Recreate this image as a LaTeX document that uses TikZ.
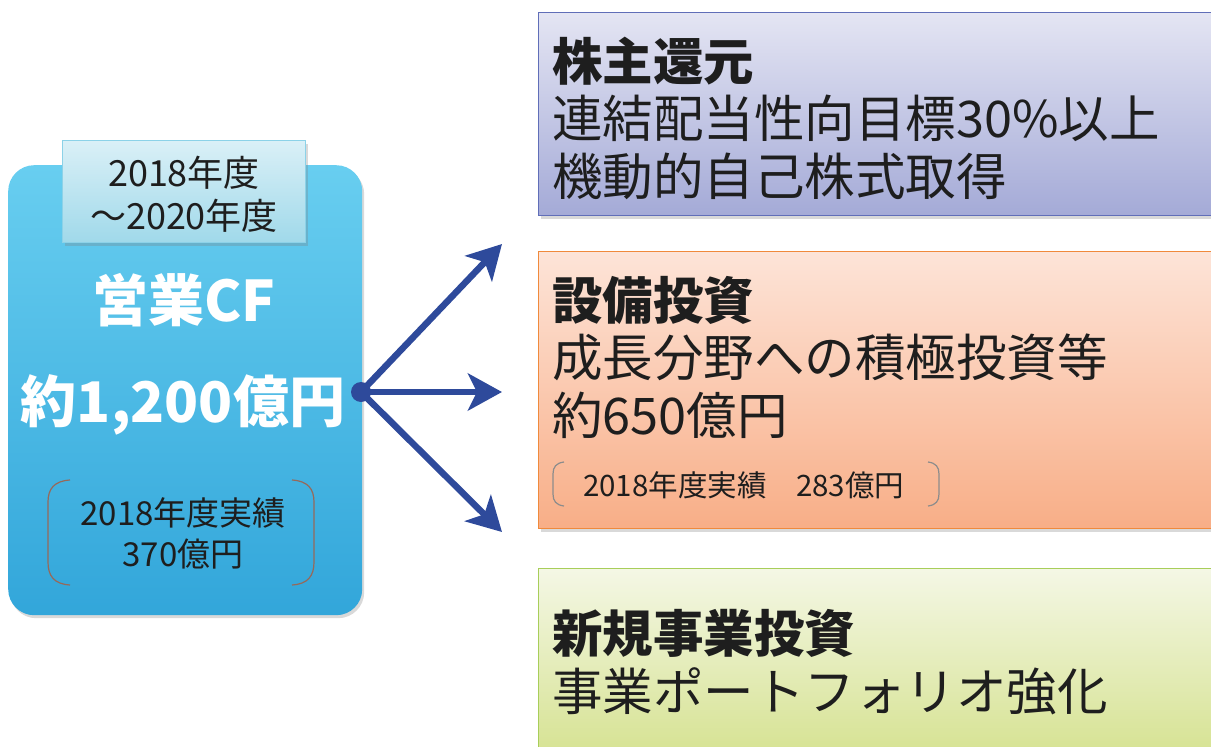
\documentclass[tikz,border=0pt]{standalone}
\usepackage{fontspec}
\setmainfont{Noto Sans CJK JP}
\usetikzlibrary{arrows.meta,shadows}
\definecolor{arrowblue}{RGB}{46,74,155}
\definecolor{cftop}{RGB}{104,206,240}
\definecolor{cfbot}{RGB}{50,166,218}
\definecolor{labtop}{RGB}{218,240,247}
\definecolor{labbot}{RGB}{160,217,234}
\definecolor{labline}{RGB}{140,210,232}
\definecolor{purtop}{RGB}{228,229,243}
\definecolor{purbot}{RGB}{164,170,215}
\definecolor{purline}{RGB}{96,110,184}
\definecolor{orgtop}{RGB}{253,228,216}
\definecolor{orgbot}{RGB}{248,174,135}
\definecolor{orgline}{RGB}{240,138,60}
\definecolor{grntop}{RGB}{244,247,229}
\definecolor{grnbot}{RGB}{212,225,140}
\definecolor{grnline}{RGB}{168,206,90}
\definecolor{brkbrown}{RGB}{150,105,90}
\definecolor{brkgray}{RGB}{140,140,140}
\definecolor{txt}{RGB}{30,30,30}
\tikzset{
  shadowed/.style={drop shadow={opacity=0.3,shadow xshift=2pt,shadow yshift=-3pt}},
  cfbox/.style={shadowed,rounded corners=26pt,top color=cftop,bottom color=cfbot,draw=none,anchor=north west,inner sep=0pt},
  labelbox/.style={shadowed,top color=labtop,bottom color=labbot,draw=labline,line width=1pt,anchor=north west,inner sep=0pt},
  sidebox/.style={shadowed,anchor=north west,inner sep=0pt,line width=1.2pt,minimum width=690pt},
  arrowline/.style={draw=arrowblue,line width=6.5pt,-{Stealth[length=34pt,width=37pt,inset=9pt]}},
  bigtxt/.style={align=left,anchor=west,inner sep=0pt,text=txt,font=\fontsize{50.5}{57.5}\selectfont},
  whitetxt/.style={text=white,inner sep=0pt,font=\fontsize{56}{60}\selectfont\bfseries},
  brk/.style={line width=1.2pt}
}
\begin{document}
\begin{tikzpicture}[x=1pt,y=-1pt]
\useasboundingbox (0,0) rectangle (1211,747);
% left block
\node[cfbox,minimum width=354pt,minimum height=450pt] (cf) at (8,165) {};
\node[labelbox,minimum width=243pt,minimum height=102pt] (period) at (62,140) {};
\node[align=center,inner sep=0pt,text=txt,font=\fontsize{36}{43}\selectfont] (periodtxt) at (184,194) {2018年度\\～2020年度};
\node[whitetxt] (cftitle) at (184,300) {営業CF};
\node[whitetxt] (cfamount) at (183,405) {約1,200億円};
\node[align=center,inner sep=0pt,text=txt,font=\fontsize{33}{41}\selectfont] (cfact) at (183,533) {2018年度実績\\370億円};
\draw[brk,brkbrown] (70,480) .. controls (54,481) and (48,489) .. (48,502) -- (48,562) .. controls (48,576) and (54,584) .. (70,585);
\draw[brk,brkbrown] (292,480) .. controls (308,481) and (314,489) .. (314,502) -- (314,562) .. controls (314,576) and (308,584) .. (292,585);
% right blocks
\node[sidebox,minimum height=203pt,top color=purtop,bottom color=purbot,draw=purline] (ret) at (538,12) {};
\node[sidebox,minimum height=277pt,top color=orgtop,bottom color=orgbot,draw=orgline] (capex) at (538,251) {};
\node[sidebox,minimum height=200pt,top color=grntop,bottom color=grnbot,draw=grnline] (newbiz) at (538,568) {};
\node[bigtxt] (rettxt) at (552,118) {\textbf{株主還元}\\連結配当性向目標30\%以上\\機動的自己株式取得};
\node[bigtxt] (capextxt) at (552,357) {\textbf{設備投資}\\成長分野への積極投資等\\約650億円};
\node[inner sep=0pt,text=txt,font=\fontsize{29.5}{34}\selectfont,anchor=west] (capexact) at (583,485) {2018年度実績\hspace{1em}283億円};
\draw[brk,brkgray] (564,462) .. controls (556,463) and (553,467) .. (553,474) -- (553,494) .. controls (553,501) and (556,505) .. (564,506);
\draw[brk,brkgray] (928,462) .. controls (936,463) and (939,467) .. (939,474) -- (939,494) .. controls (939,501) and (936,505) .. (928,506);
\node[bigtxt] (newbiztxt) at (552,662) {\textbf{新規事業投資}\\事業ポートフォリオ強化};
% arrows
\coordinate (t1) at (502,244);
\coordinate (t2) at (502,392);
\coordinate (t3) at (502,532);
\node[circle,fill=arrowblue,minimum size=20pt,inner sep=0pt] (hub) at (361,392) {};
\draw[arrowline] (hub.center) -- (t1);
\draw[arrowline] (hub.center) -- (t2);
\draw[arrowline] (hub.center) -- (t3);
\end{tikzpicture}
\end{document}
